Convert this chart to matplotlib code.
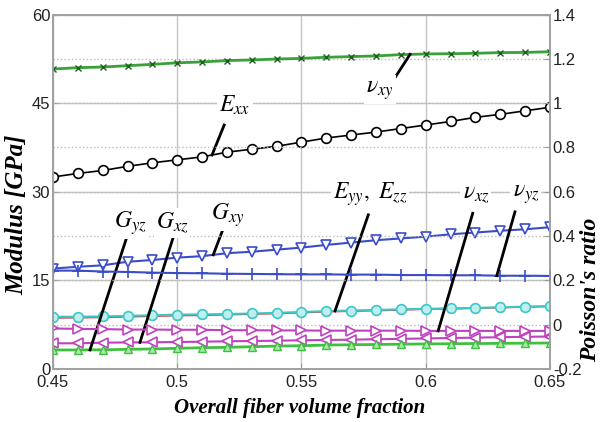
import numpy as np
import matplotlib
matplotlib.use('Agg')
import matplotlib.pyplot as plt
from matplotlib.ticker import FormatStrFormatter

plt.rcParams['mathtext.fontset'] = 'stix'

# fiber volume fraction
vf = [0.45, 0.46, 0.47, 0.48, 0.49, 0.50, 0.51, 0.52, 0.53, 0.54, 0.55,
      0.56, 0.57, 0.58, 0.59, 0.60, 0.61, 0.62, 0.63, 0.64, 0.65]

# moduli [GPa]
e_xx = [32.5, 33.1, 33.6, 34.3, 34.9, 35.4, 35.9, 36.7, 37.2, 37.7, 38.4,
        39.1, 39.6, 40.1, 40.7, 41.3, 41.9, 42.6, 43.1, 43.7, 44.3]
e_yy = [8.85, 8.85, 8.9, 9.0, 9.1, 9.2, 9.25, 9.3, 9.4, 9.5, 9.65,
        9.8, 9.9, 10.0, 10.1, 10.2, 10.25, 10.35, 10.45, 10.55, 10.65]
e_zz = [8.65, 8.7, 8.75, 8.85, 8.95, 9.05, 9.1, 9.2, 9.3, 9.4, 9.55,
        9.7, 9.8, 9.9, 10.0, 10.15, 10.2, 10.3, 10.4, 10.5, 10.6]
g_xy = [17.0, 17.3, 17.55, 18.15, 18.45, 18.85, 19.1, 19.6, 19.85, 20.2, 20.55,
        21.0, 21.4, 21.8, 22.1, 22.4, 22.8, 23.1, 23.4, 23.65, 24.0]
g_xz = [4.35, 4.35, 4.45, 4.5, 4.52, 4.57, 4.62, 4.69, 4.74, 4.79, 4.86,
        4.91, 4.97, 5.03, 5.1, 5.17, 5.24, 5.31, 5.38, 5.45, 5.5]
g_yz = [3.22, 3.22, 3.25, 3.33, 3.39, 3.5, 3.6, 3.67, 3.77, 3.88, 3.94,
        4.05, 4.1, 4.15, 4.2, 4.24, 4.28, 4.31, 4.34, 4.37, 4.4]

# Poisson's ratios
nu_xy = [1.154, 1.160, 1.163, 1.169, 1.175, 1.182, 1.186, 1.192, 1.195, 1.199, 1.202,
         1.207, 1.210, 1.213, 1.219, 1.222, 1.223, 1.225, 1.228, 1.229, 1.232]
nu_xz = [-0.017, -0.019, -0.020, -0.022, -0.022, -0.023, -0.023, -0.025, -0.025, -0.026, -0.026,
         -0.027, -0.027, -0.027, -0.027, -0.028, -0.028, -0.028, -0.028, -0.028, -0.028]
nu_yz = [0.244, 0.244, 0.240, 0.238, 0.235, 0.233, 0.232, 0.230, 0.229, 0.228, 0.227,
         0.227, 0.226, 0.226, 0.224, 0.224, 0.223, 0.223, 0.221, 0.221, 0.220]

fig = plt.figure(figsize=(6.02, 4.22), dpi=100)
ax = fig.add_axes([0.088, 0.1256, 0.8256, 0.8400])
ax2 = ax.twinx()

# modulus curves
ax.plot(vf, e_xx, '-o', color='k', lw=1.2, ms=7, mfc='white', mec='k', mew=1.2)
ax.plot(vf, g_xy, '-v', color='#3b4cc8', lw=1.5, ms=7, mfc='white', mew=1.2)
ax.plot(vf, e_zz, '-s', color='#d04040', lw=1.3, ms=5, mfc='none', mew=1.0)
ax.plot(vf, e_yy, '-o', color='#3cc8c8', lw=1.5, ms=7, mfc='#bfeeee', mew=1.2)
ax.plot(vf, g_xz, '-<', color='#c040c0', lw=1.5, ms=7, mfc='white', mew=1.2)
ax.plot(vf, g_yz, '-^', color='#40c040', lw=2.0, ms=6, mfc='#a8e8a8', mew=1.0)

# Poisson's ratio curves
ax2.plot(vf, nu_xy, '-x', color='#3aa03a', lw=2.0, ms=4, mec='#1e5e1e', mew=1.0)
ax2.plot(vf, nu_yz, '-+', color='#3b4cc8', lw=1.5, ms=8, mew=1.2)
ax2.plot(vf, nu_xz, '->', color='#c040c0', lw=1.5, ms=7, mfc='white', mew=1.2)

ax.set_xlim(0.45, 0.65)
ax.set_ylim(0, 60)
ax2.set_ylim(-0.2, 1.4)
ax.set_xticks([0.45, 0.5, 0.55, 0.6, 0.65])
ax.set_yticks([0, 15, 30, 45, 60])
ax2.set_yticks(np.arange(-0.2, 1.41, 0.2))
ax.xaxis.set_major_formatter(FormatStrFormatter('%g'))
ax2.yaxis.set_major_formatter(FormatStrFormatter('%g'))

ax.grid(True, color='#c4c4c4', lw=1.0)
ax2.grid(True, axis='y', color='#bbbbbb', lw=1.0, ls=':')
ax.set_axisbelow(True)

for a in (ax, ax2):
    a.tick_params(direction='in', length=4, color='#999999', labelsize=12,
                  labelcolor='#222222', pad=2)
    for lab in a.get_xticklabels() + a.get_yticklabels():
        lab.set_family('Liberation Sans')
    for s in a.spines.values():
        s.set_color('#a0a0a0')
        s.set_linewidth(1.2)
ax.tick_params(axis='x', pad=4)


def to_right(y):
    return -0.2 + y * 1.6 / 60


lbl = dict(fontsize=17, ha='center', va='center', zorder=10,
           bbox=dict(facecolor='white', edgecolor='none', pad=1.5))


def tag(text, tx, ty, sx, sy, xe, series, right=False):
    ax2.text(tx, ty, text, transform=ax.transData, **lbl)
    ye = np.interp(xe, vf, series)
    if right:
        ax2.plot([sx, xe], [to_right(sy), ye], color='k', lw=2, zorder=9)
    else:
        ax.plot([sx, xe], [sy, ye], color='k', lw=2, zorder=9)


tag(r'$E_{xx}$', 0.5232, 44.7, 0.5189, 41.3, 0.514, e_xx)
tag(r'$\nu_{xy}$', 0.5816, 47.3, 0.5876, 49.3, 0.5937, nu_xy, right=True)
tag(r'$G_{xy}$', 0.5204, 26.1, 0.5189, 24.2, 0.5145, g_xy)
tag(r'$G_{xz}$', 0.4979, 24.7, 0.4984, 22.3, 0.485, g_xz)
tag(r'$G_{yz}$', 0.481, 24.7, 0.4797, 22.3, 0.4649, g_yz)
tag(r'$E_{yy},\ E_{zz}$', 0.5776, 29.6, 0.5769, 26.1, 0.5635, e_yy)
tag(r'$\nu_{xz}$', 0.6202, 29.6, 0.6189, 26.35, 0.605, nu_xz, right=True)
tag(r'$\nu_{yz}$', 0.6403, 29.6, 0.6359, 26.6, 0.6286, nu_yz, right=True)

ttl = dict(family='Liberation Serif', weight='bold', style='italic',
           ha='center', va='center')
fig.text(300 / 602, 1 - 408 / 422, 'Overall fiber volume fraction', fontsize=15, **ttl)
fig.text(17 / 602, 1 - 215 / 422, 'Modulus [GPa]', fontsize=18, rotation=90, **ttl)
fig.text(591 / 602, 1 - 290 / 422, "Poisson's ratio", fontsize=17, rotation=90, **ttl)

fig.savefig('out.png', dpi=100)
